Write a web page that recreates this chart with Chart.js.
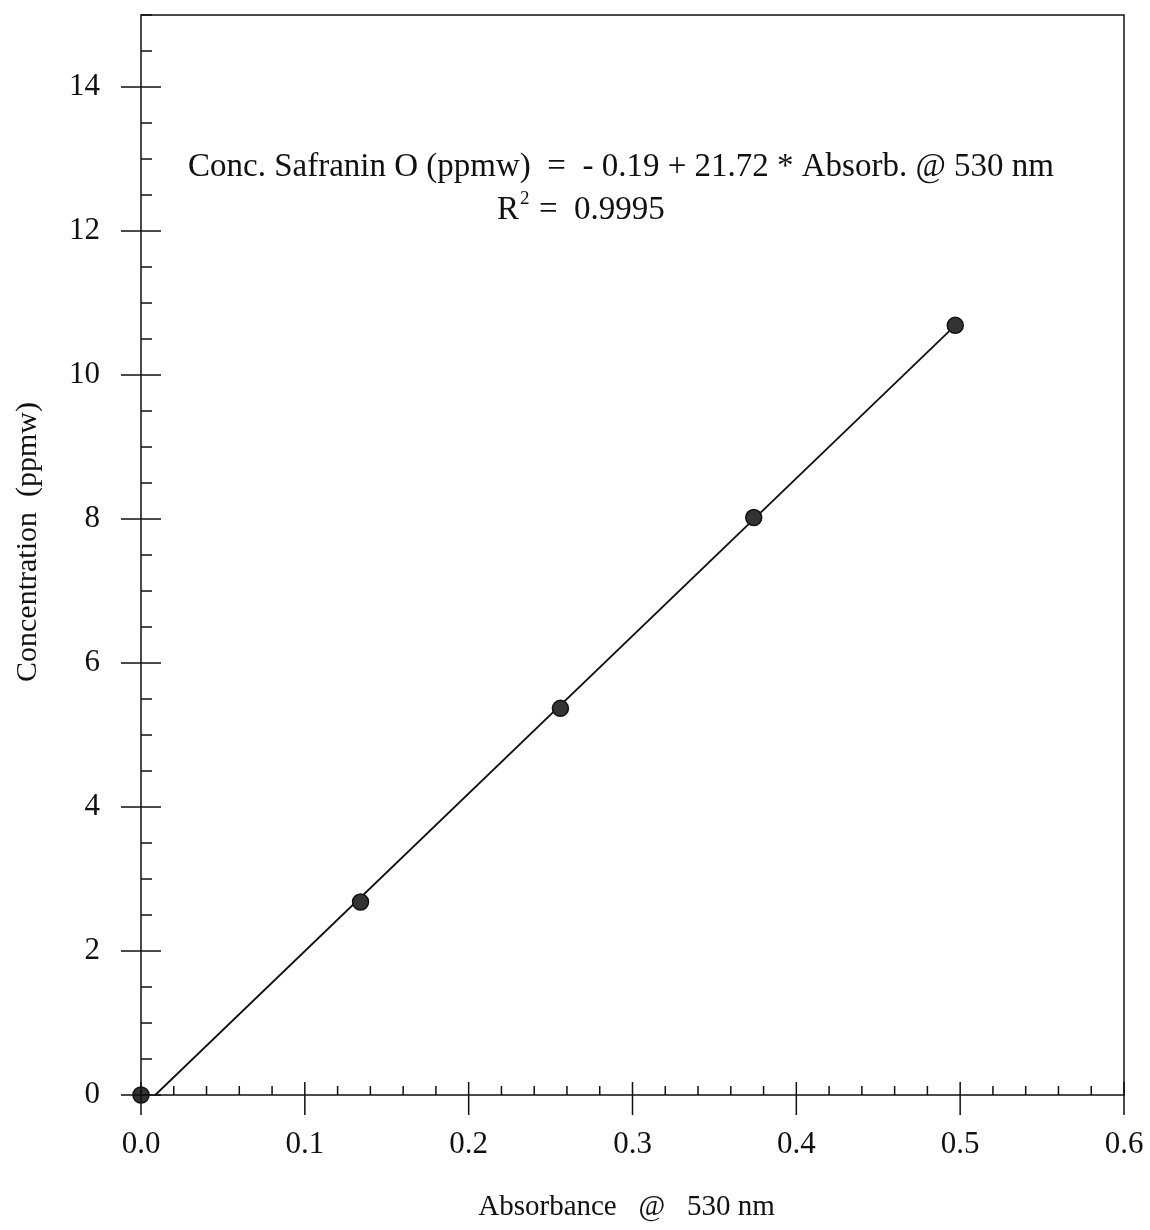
<!DOCTYPE html>
<html>
<head>
<meta charset="utf-8">
<script src="https://cdn.jsdelivr.net/npm/chart.js@4/dist/chart.umd.min.js"></script>
<style>
  html, body { margin: 0; padding: 0; background: #fff; }
  #wrap { width: 1150px; height: 1230px; }
</style>
</head>
<body>
<div id="wrap"><canvas id="cal"></canvas></div>
<script>
// measured points (absorbance, concentration)
const absorbance = [0.0, 0.134, 0.256, 0.374, 0.497];
const concentration = [0.0, 2.68, 5.37, 8.02, 10.69];

// fitted line end points as drawn
const fitX = [0.0087, 0.497];
const fitY = [0.0, 10.69];

const xMajor = [0.0, 0.1, 0.2, 0.3, 0.4, 0.5, 0.6];
const xLabels = ['0.0', '0.1', '0.2', '0.3', '0.4', '0.5', '0.6'];
const xMinor = [];
for (let i = 0; i <= 30; i++) if (i % 5) xMinor.push(i * 0.02);

const yMajor = [0, 2, 4, 6, 8, 10, 12, 14];
const yMinor = [];
for (let i = 0; i <= 30; i++) if (i % 4) yMinor.push(i * 0.5);

const eqLine = 'Conc. Safranin O (ppmw)  =  - 0.19 + 21.72 * Absorb. @ 530 nm';
const xTitle = 'Absorbance   @   530 nm';
const yTitle = 'Concentration  (ppmw)';

const FONT = '"Liberation Serif", "DejaVu Serif", serif';
const INK = '#111';

// frame, hand-drawn style ticks (majors cross the axis, minors point inward), texts
const decorPlugin = {
    id: 'decor',
    afterDraw(chart) {
        const c = chart.ctx;
        const xs = chart.scales.x, ys = chart.scales.y;
        const a = chart.chartArea;
        c.save();
        c.strokeStyle = INK;
        c.lineWidth = 1.5;
        c.strokeRect(a.left, a.top, a.right - a.left, a.bottom - a.top);
        c.beginPath();
        xMajor.forEach(v => {
            const px = xs.getPixelForValue(v);
            c.moveTo(px, a.bottom - 13);
            c.lineTo(px, a.bottom + 20);
        });
        xMinor.forEach(v => {
            const px = xs.getPixelForValue(v);
            c.moveTo(px, a.bottom - 9);
            c.lineTo(px, a.bottom);
        });
        yMajor.forEach(v => {
            const py = ys.getPixelForValue(v);
            c.moveTo(a.left - 20, py);
            c.lineTo(a.left + 20, py);
        });
        yMinor.forEach(v => {
            const py = ys.getPixelForValue(v);
            c.moveTo(a.left, py);
            c.lineTo(a.left + 11, py);
        });
        c.stroke();

        c.fillStyle = INK;
        c.textBaseline = 'middle';

        // equation
        c.font = '33px ' + FONT;
        c.textAlign = 'center';
        c.fillText(eqLine, xs.getPixelForValue(0.293), ys.getPixelForValue(12.89));
        const rx = xs.getPixelForValue(0.2173);
        const ry = ys.getPixelForValue(12.29);
        c.textAlign = 'left';
        c.fillText('R', rx, ry);
        c.font = '19px ' + FONT;
        c.fillText('2', rx + 23, ry - 11);
        c.font = '33px ' + FONT;
        c.fillText('=  0.9995', rx + 42, ry);

        // axis titles
        c.textAlign = 'center';
        c.font = '29px ' + FONT;
        c.fillText(xTitle, (a.left + a.right) / 2 - 6, a.bottom + 112);
        c.translate(28, (a.top + a.bottom) / 2 - 13);
        c.rotate(-Math.PI / 2);
        c.font = '30px ' + FONT;
        c.fillText(yTitle, 0, 0);
        c.restore();
    }
};

new Chart(document.getElementById('cal'), {
    type: 'scatter',
    data: {
        datasets: [
            {
                label: 'fit',
                data: fitX.map((x, i) => ({ x: x, y: fitY[i] })),
                showLine: true,
                borderColor: INK,
                borderWidth: 1.8,
                pointRadius: 0,
                clip: false,
                order: 2
            },
            {
                label: 'data',
                data: absorbance.map((x, i) => ({ x: x, y: concentration[i] })),
                pointRadius: 8,
                pointBackgroundColor: '#333',
                pointBorderColor: INK,
                pointBorderWidth: 1.5,
                clip: false,
                order: 1
            }
        ]
    },
    options: {
        responsive: true,
        maintainAspectRatio: false,
        animation: false,
        layout: { padding: { left: 0, right: 26, top: 15, bottom: 0 } },
        plugins: { legend: { display: false }, tooltip: { enabled: false } },
        scales: {
            x: {
                type: 'linear',
                min: 0, max: 0.6,
                afterBuildTicks: s => { s.ticks = xMajor.map(v => ({ value: v })); },
                afterFit: s => { s.height = 135; s.paddingLeft = 0; s.paddingRight = 0; },
                grid: { display: false, drawTicks: false },
                border: { display: false },
                ticks: {
                    padding: 31,
                    color: INK,
                    maxRotation: 0,
                    font: { family: FONT, size: 31 },
                    callback: (v, i) => xLabels[i]
                }
            },
            y: {
                type: 'linear',
                min: 0, max: 15,
                afterBuildTicks: s => { s.ticks = yMajor.map(v => ({ value: v })); },
                afterFit: s => { s.width = 141; s.paddingTop = 0; s.paddingBottom = 0; },
                grid: { display: false, drawTicks: false },
                border: { display: false },
                ticks: {
                    padding: 41,
                    color: INK,
                    font: { family: FONT, size: 31 },
                    callback: v => String(v)
                }
            }
        }
    },
    plugins: [decorPlugin]
});
</script>
</body>
</html>
